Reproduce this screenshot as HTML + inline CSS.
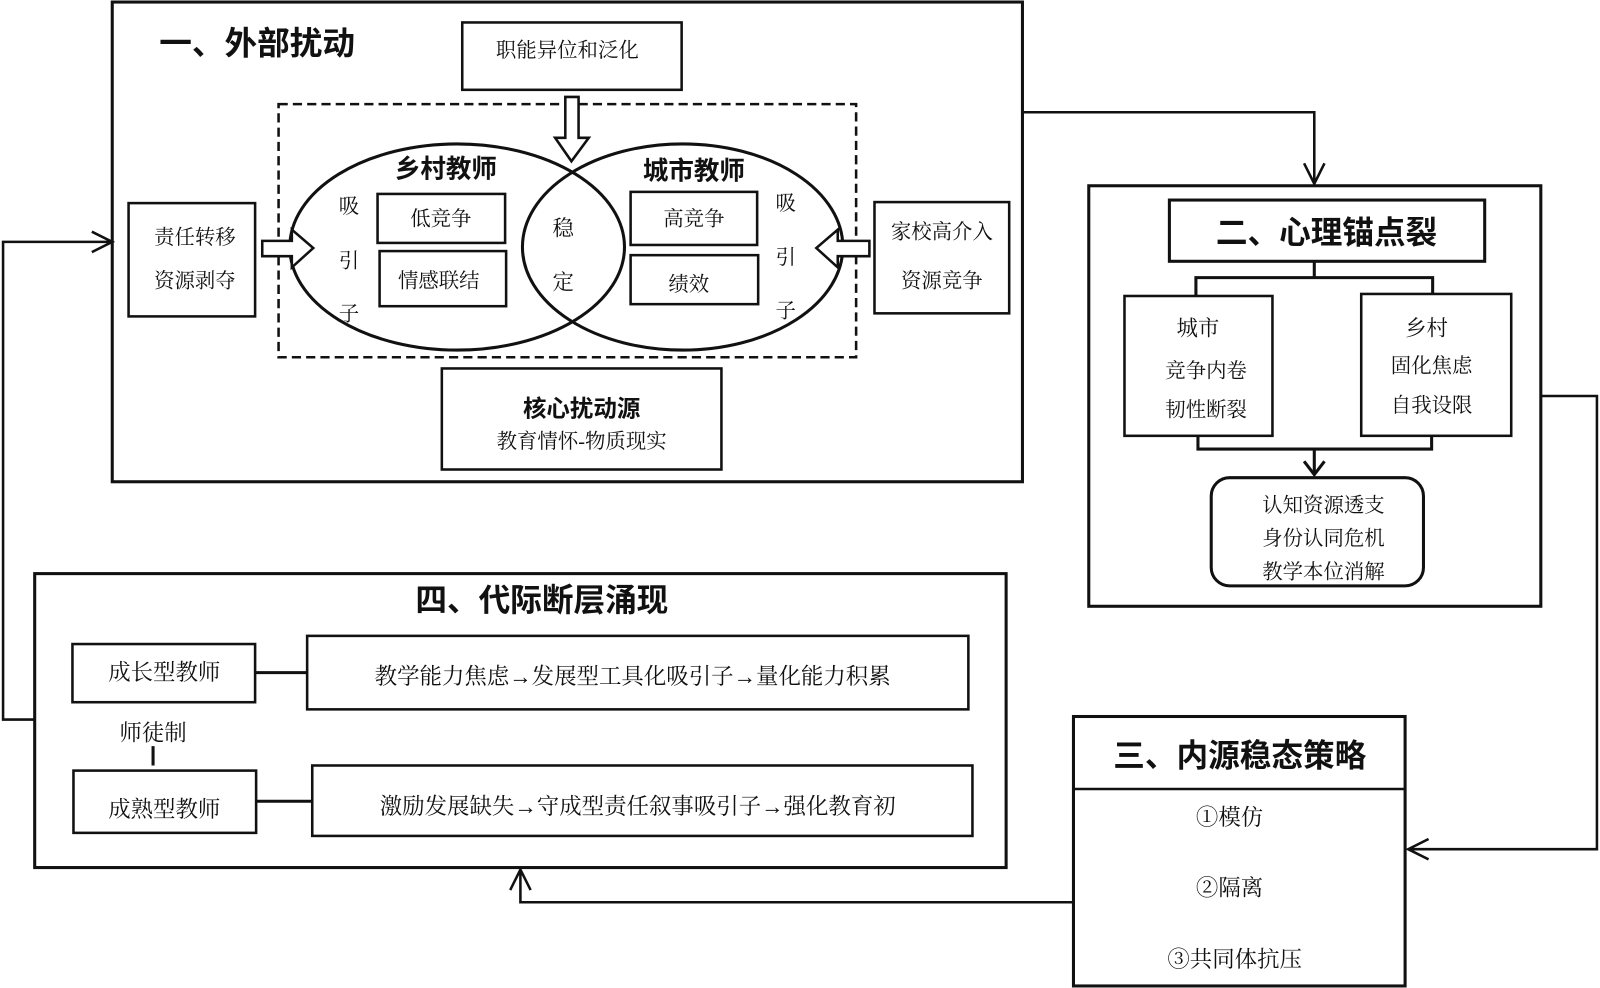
<!DOCTYPE html>
<html><head><meta charset="utf-8"><style>
html,body{margin:0;padding:0;background:#fff}
svg{display:block}
text{font-family:"Liberation Serif","Noto Serif CJK SC","Noto Sans CJK SC",serif;fill:#111;text-anchor:middle;dominant-baseline:central}
.b{font-family:"Liberation Sans","Noto Sans CJK SC",sans-serif;font-weight:bold}
</style></head><body>
<svg width="1600" height="988" viewBox="0 0 1568 968" preserveAspectRatio="none" xmlns="http://www.w3.org/2000/svg">
<g fill="none" stroke="#111" stroke-width="2.5">
<rect x="110" y="2" width="892" height="470" stroke-width="3"/>
<rect x="453" y="22" width="215" height="66"/>
<rect x="273" y="102" width="566" height="248" stroke-dasharray="9,5"/>
<ellipse cx="448" cy="242" rx="164" ry="101" stroke-width="3"/>
<ellipse cx="669" cy="242" rx="157" ry="101" stroke-width="3"/>
<rect x="370" y="190" width="125" height="48"/>
<rect x="372" y="246" width="124" height="54"/>
<rect x="618" y="188" width="124" height="52"/>
<rect x="618" y="250" width="125" height="48"/>
<rect x="126" y="199" width="124" height="111"/>
<rect x="857" y="198" width="132" height="109"/>
<rect x="433" y="361" width="274" height="99"/>
<path d="M554 95 V135 H544 L560 158 L577 135 H567 V95 Z" fill="#fff"/>
<path d="M257 236 H286 V225 L307 243 L286 262 V251 H257 Z" fill="#fff"/>
<path d="M852 236 H821 V225 L800 243 L821 262 V251 H852 Z" fill="#fff"/>
<rect x="1067" y="182" width="443" height="412" stroke-width="3"/>
<rect x="1146" y="196" width="309" height="60" stroke-width="3"/>
<path d="M1288 256 V272 M1172 290 V272 H1404 V288" stroke-width="3"/>
<rect x="1102" y="290" width="145" height="137"/>
<rect x="1334" y="288" width="147" height="139"/>
<path d="M1174 427 V440 H1403 V427 M1288 440 V465" stroke-width="3"/>
<path d="M1278 452 L1288 465 L1298 452" stroke-width="3"/>
<rect x="1187" y="468" width="208" height="106" rx="18" stroke-width="3"/>
<rect x="34" y="562" width="952" height="288" stroke-width="3"/>
<rect x="71" y="631" width="179" height="57"/>
<rect x="301" y="623" width="648" height="72"/>
<rect x="72" y="755" width="179" height="61"/>
<rect x="306" y="750" width="647" height="69"/>
<path d="M250 659 H301 M251 785 H306 M150 731 V750" stroke-width="3"/>
<rect x="1052" y="702" width="325" height="264" stroke-width="3"/>
<path d="M1052 773 H1377"/>
<path d="M1002 110 H1288 V180 M1278 160 L1288 180 L1298 160" stroke-width="2.5"/>
<path d="M1510 388 H1565 V832 H1380 M1400 822 L1380 832 L1400 842" stroke-width="2.5"/>
<path d="M1052 884 H510 V852 M500 872 L510 852 L520 872" stroke-width="2.5"/>
<path d="M34 705 H3 V237 H110 M90 227 L110 237 L90 247" stroke-width="2.5"/>
</g>
<text x="252" y="42" class="b" font-size="32">一、外部扰动</text>
<text x="556" y="50" font-size="20">职能异位和泛化</text>
<text x="437" y="166" class="b" font-size="25">乡村教师</text>
<text x="680" y="168" class="b" font-size="25">城市教师</text>
<text x="342" y="203" font-size="20">吸</text><text x="342" y="256" font-size="20">引</text><text x="342" y="308" font-size="20">子</text>
<text x="770" y="200" font-size="20">吸</text><text x="770" y="253" font-size="20">引</text><text x="770" y="305" font-size="20">子</text>
<text x="432" y="215" font-size="20">低竞争</text>
<text x="430" y="276" font-size="20">情感联结</text>
<text x="680" y="215" font-size="20">高竞争</text>
<text x="675" y="279" font-size="20">绩效</text>
<text x="552" y="224" font-size="21">稳</text><text x="552" y="277" font-size="21">定</text>
<text x="191" y="233" font-size="20">责任转移</text><text x="191" y="276" font-size="20">资源剥夺</text>
<text x="923" y="228" font-size="20">家校高介入</text><text x="923" y="276" font-size="20">资源竞争</text>
<text x="570" y="400" class="b" font-size="23">核心扰动源</text>
<text x="570" y="433" font-size="20">教育情怀-物质现实</text>
<text x="1300" y="228" class="b" font-size="31">二、心理锚点裂</text>
<text x="1174" y="322" font-size="21">城市</text>
<text x="1182" y="364" font-size="20">竞争内卷</text>
<text x="1182" y="402" font-size="20">韧性断裂</text>
<text x="1398" y="322" font-size="21">乡村</text>
<text x="1403" y="359" font-size="20">固化焦虑</text>
<text x="1403" y="398" font-size="20">自我设限</text>
<text x="1297" y="496" font-size="20">认知资源透支</text>
<text x="1297" y="528" font-size="20">身份认同危机</text>
<text x="1297" y="561" font-size="20">教学本位消解</text>
<text x="531" y="588" class="b" font-size="31">四、代际断层涌现</text>
<text x="161" y="659" font-size="22">成长型教师</text>
<text x="620" y="663" font-size="22">教学能力焦虑→发展型工具化吸引子→量化能力积累</text>
<text x="150" y="718" font-size="22">师徒制</text>
<text x="161" y="793" font-size="22">成熟型教师</text>
<text x="625" y="790" font-size="22">激励发展缺失→守成型责任叙事吸引子→强化教育初</text>
<text x="1215" y="740" class="b" font-size="31">三、内源稳态策略</text>
<text x="1205" y="801" font-size="22">①模仿</text>
<text x="1205" y="870" font-size="22">②隔离</text>
<text x="1210" y="940" font-size="22">③共同体抗压</text>
</svg>
</body></html>
